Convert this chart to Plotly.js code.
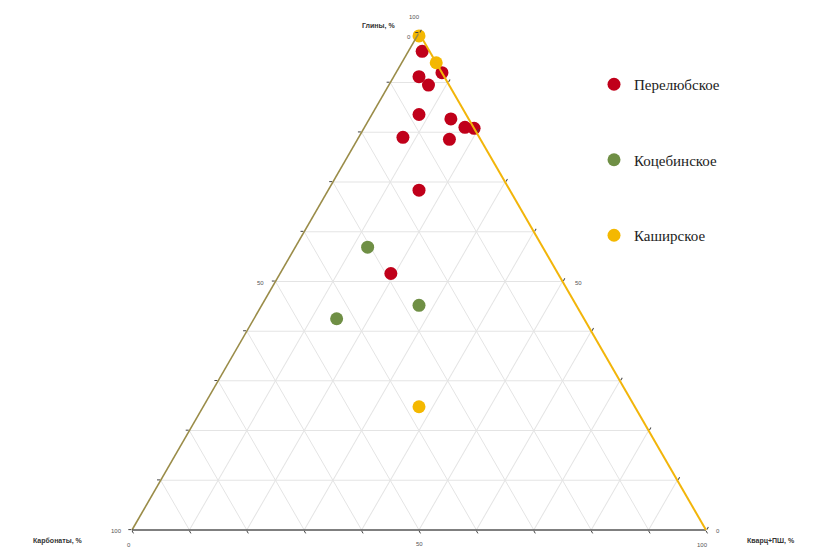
<!DOCTYPE html>
<html>
<head>
<meta charset="utf-8">
<script src="https://cdn.plot.ly/plotly-3.0.1.min.js"></script>
<style>html,body{margin:0;padding:0;background:#fff;}#chart{width:814px;height:547px;}</style>
</head>
<body>
<div id="chart"></div>
<script>
// Series names
const seriesNames = ["Перелюбское", "Коцебинское", "Каширское"];
// Axis titles
const axisTitles = {clay: "Глины, %", carb: "Карбонаты, %", quartz: "Кварц+ПШ, %"};

// Перелюбское
const perClay   = [96.3, 92.0, 91.2, 89.5, 83.5, 82.7, 81.0, 80.8, 79.0, 78.6, 68.3, 51.6];
const perCarb   = [1.3, 0.0, 4.4, 3.6, 8.2, 3.1, 1.5, 0.0, 13.3, 5.4, 15.8, 29.1];
const perQuartz = [2.4, 8.0, 4.4, 6.9, 8.2, 14.2, 17.5, 19.2, 7.7, 16.0, 15.8, 19.3];

// Коцебинское
const kocClay   = [56.9, 45.2, 42.5];
const kocCarb   = [30.5, 27.4, 43.1];
const kocQuartz = [12.6, 27.4, 14.4];

// Каширское
const kasClay   = [99.4, 94.0, 24.8];
const kasCarb   = [0.3, 0.0, 37.6];
const kasQuartz = [0.3, 6.0, 37.6];

const colors = ["#c0001a", "#6f8f45", "#f4b800"];

const W = 814, H = 547;
// triangle geometry (pixels)
const triL = 132, triR = 706, triBottom = 531;
const triW = triR - triL, triH = triW * Math.sqrt(3) / 2;
const triTop = triBottom - triH;
const cx = (triL + triR) / 2;

function px(x) { return x / W; }
function py(y) { return 1 - y / H; }

function tr(name, a, b, c, col) {
  return {
    type: "scatterternary", mode: "markers", name: name, legendgroup: name,
    a: a, b: b, c: c, cliponaxis: false,
    marker: {size: 13, color: col, line: {width: 0}},
    hoverinfo: "skip"
  };
}

const data = [
  tr(seriesNames[0], perClay, perCarb, perQuartz, colors[0]),
  tr(seriesNames[1], kocClay, kocCarb, kocQuartz, colors[1]),
  tr(seriesNames[2], kasClay, kasCarb, kasQuartz, colors[2])
];

const axBase = {
  min: 0, dtick: 10, showticklabels: false,
  ticks: "outside", ticklen: 3, tickwidth: 1, tickcolor: "#444",
  showgrid: true, gridcolor: "#e4e4e4", gridwidth: 1,
  showline: true, linewidth: 1.6, title: {text: ""}
};

const tickFont = {family: "Arial, Liberation Sans, sans-serif", size: 6, color: "#555"};
const titleFont = {family: "Arial, Liberation Sans, sans-serif", size: 7, color: "#333", weight: "bold"};

function ann(text, x, y, xanchor, font) {
  return {text: text, x: px(x), y: py(y), xref: "paper", yref: "paper",
          xanchor: xanchor || "center", yanchor: "middle", showarrow: false, font: font || tickFont};
}

const midY = (triTop + triBottom) / 2;
const annotations = [
  ann("100", cx - 5, triTop - 17),
  ann("0", cx - 10, triTop + 3),
  ann("50", (triL + cx) / 2 - 10, midY + 1, "right"),
  ann("50", (triR + cx) / 2 + 10, midY + 1, "left"),
  ann("100", triL - 8, triBottom, "right"),
  ann("0", triL - 3, triBottom + 14),
  ann("50", cx, triBottom + 13),
  ann("0", triR + 8, triBottom, "left"),
  ann("100", triR - 4, triBottom + 14),
  ann(axisTitles.clay, cx - 22, triTop - 8, "right", titleFont),
  ann(axisTitles.carb, 85, triBottom + 10, "right", titleFont),
  ann(axisTitles.quartz, 745, triBottom + 10, "left", titleFont)
];

const layout = {
  width: W, height: H,
  margin: {l: 0, r: 0, t: 0, b: 0},
  paper_bgcolor: "#fff",
  showlegend: true,
  legend: {
    x: px(594), y: py(68), xanchor: "left", yanchor: "top",
    font: {family: "Liberation Serif, Times New Roman, serif", size: 15, color: "#222"},
    tracegroupgap: 53, itemwidth: 30, bgcolor: "rgba(0,0,0,0)"
  },
  ternary: {
    domain: {x: [px(triL), px(triR)], y: [1 - triBottom / H, 1 - (triTop - 2) / H]},
    sum: 100,
    bgcolor: "#fff",
    aaxis: Object.assign({}, axBase, {linecolor: "#9a8c48"}),
    baxis: Object.assign({}, axBase, {linecolor: "#555555"}),
    caxis: Object.assign({}, axBase, {linecolor: "#f2b50a", linewidth: 2})
  },
  annotations: annotations
};

Plotly.newPlot("chart", data, layout, {displayModeBar: false, staticPlot: true});
</script>
</body>
</html>
